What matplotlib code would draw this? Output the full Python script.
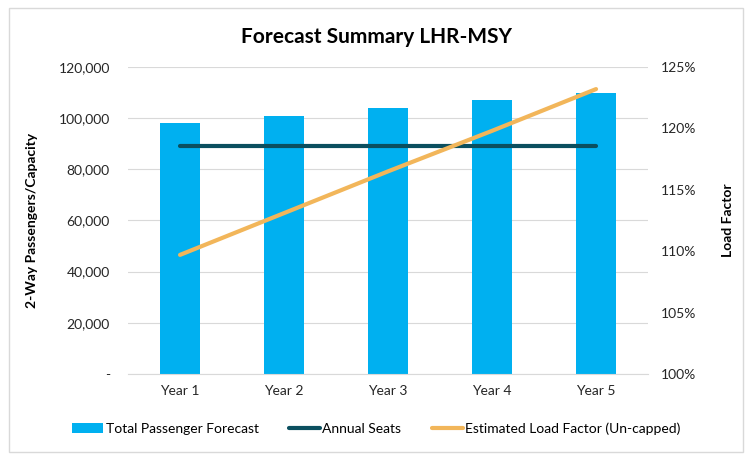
import matplotlib
matplotlib.use("Agg")
import matplotlib.pyplot as plt
from matplotlib.patches import Rectangle
from matplotlib.ticker import FuncFormatter

plt.rcParams['font.family'] = ['Lato', 'DejaVu Sans']

years = ["Year 1", "Year 2", "Year 3", "Year 4", "Year 5"]
passengers = [98000, 101000, 104000, 107000, 110000]
annual_seats = [89300, 89300, 89300, 89300, 89300]
load_factor = [109.7, 113.1, 116.5, 119.8, 123.2]

bar_col = "#00B0F0"
seat_col = "#0B4F5F"
lf_col = "#F2B65A"
grid_col = "#D9D9D9"

fig = plt.figure(figsize=(7.53, 4.62), dpi=100)
ax = fig.add_axes([0.170, 0.1905, 0.6906, 0.6645])
ax2 = ax.twinx()

x = list(range(len(years)))
bars = ax.bar(x, passengers, width=0.39, color=bar_col, zorder=2, label="Total Passenger Forecast")
seats, = ax.plot(x, annual_seats, color=seat_col, lw=3, solid_capstyle="round", zorder=3,
                 label="Annual Seats")
lf, = ax2.plot(x, load_factor, color=lf_col, lw=3, solid_capstyle="round", zorder=4,
               label="Estimated Load Factor (Un-capped)")

ax.set_xlim(-0.5, 4.5)
ax.set_ylim(0, 120000)
ax.set_yticks(range(0, 120001, 20000))
ax.yaxis.set_major_formatter(FuncFormatter(lambda v, p: "-" if v == 0 else f"{int(v):,}"))
ax2.set_ylim(100, 125)
ax2.set_yticks(range(100, 126, 5))
ax2.yaxis.set_major_formatter(FuncFormatter(lambda v, p: f"{int(v)}%"))

ax.set_xticks(x)
ax.set_xticklabels(years)
ax.grid(axis="y", color=grid_col, lw=0.8, zorder=0)
ax.set_axisbelow(True)

for a in (ax, ax2):
    for s in a.spines.values():
        s.set_visible(False)
    a.tick_params(length=0, labelsize=10, colors="#262626")
ax.tick_params(axis="y", pad=13)
ax.tick_params(axis="x", pad=8)
ax2.tick_params(axis="y", pad=9)
ax.spines["bottom"].set_visible(True)
ax.spines["bottom"].set_color(grid_col)

ax.set_ylabel("2-Way Passengers/Capacity", fontsize=10, fontweight="bold")
ax.yaxis.set_label_coords(-0.173, 0.5)
ax2.set_ylabel("Load Factor", fontsize=10, fontweight="bold", rotation=90)
ax2.yaxis.set_label_coords(1.142, 0.5)

fig.text(0.5, 0.92, "Forecast Summary LHR-MSY", ha="center", va="center",
         fontsize=15, fontweight="bold", color="#000000")

fig.legend([bars, seats, lf], [bars.get_label(), seats.get_label(), lf.get_label()],
           loc="center", bbox_to_anchor=(0.5, 0.073), ncol=3,
           frameon=False, fontsize=10, handlelength=2.2, columnspacing=2.2,
           handletextpad=0.2)

fig.patches.append(Rectangle((0.012, 0.022), 0.975, 0.96, transform=fig.transFigure,
                             fill=False, edgecolor="#D9D9D9", lw=1))

fig.savefig("out.png", dpi=100)
